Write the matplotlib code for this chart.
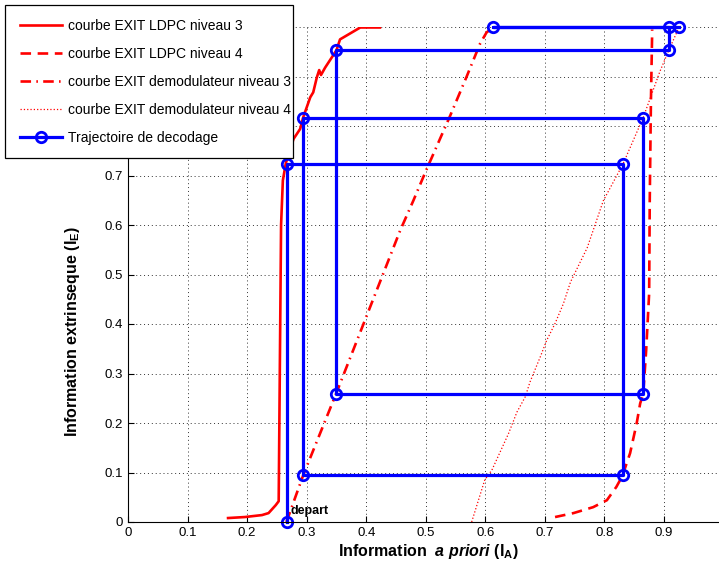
import matplotlib
matplotlib.use('Agg')
from matplotlib import pyplot as plt
from matplotlib.patches import Rectangle

plt.rcParams['font.family'] = ['Liberation Sans', 'DejaVu Sans']
plt.rcParams['mathtext.fontset'] = 'custom'
plt.rcParams['mathtext.rm'] = 'Liberation Sans:bold'
plt.rcParams['mathtext.it'] = 'Liberation Sans:italic:bold'
plt.rcParams['mathtext.bf'] = 'Liberation Sans:bold'

# courbe EXIT LDPC niveau 3 (solid)
ldpc3_x = [0.168, 0.196, 0.225, 0.236, 0.248, 0.253, 0.257, 0.260, 0.265, 0.278, 0.289, 0.294,
           0.306, 0.311, 0.317, 0.321, 0.324, 0.331, 0.350, 0.356, 0.390, 0.423]
ldpc3_y = [0.008, 0.010, 0.014, 0.018, 0.034, 0.042, 0.600, 0.690, 0.725, 0.774, 0.794, 0.817,
           0.858, 0.868, 0.898, 0.913, 0.903, 0.918, 0.953, 0.975, 0.999, 0.999]

# courbe EXIT LDPC niveau 4 (dashed)
ldpc4_x = [0.717, 0.748, 0.781, 0.804, 0.820, 0.830, 0.843, 0.854, 0.860, 0.865, 0.870, 0.875,
           0.876, 0.878, 0.880, 0.880]
ldpc4_y = [0.010, 0.018, 0.030, 0.044, 0.071, 0.093, 0.139, 0.199, 0.240, 0.258, 0.347, 0.462,
           0.649, 0.851, 0.986, 0.995]

# courbe EXIT demodulateur niveau 3 (dash-dot)
demod3_x = [0.266, 0.294, 0.349, 0.457, 0.479, 0.499, 0.541, 0.569, 0.591, 0.602, 0.613]
demod3_y = [0.000, 0.094, 0.258, 0.589, 0.649, 0.706, 0.821, 0.901, 0.966, 0.989, 0.999]

# courbe EXIT demodulateur niveau 4 (dotted)
demod4_x = [0.577, 0.599, 0.611, 0.625, 0.639, 0.653, 0.667, 0.675, 0.692, 0.703, 0.717, 0.731,
            0.743, 0.771, 0.798, 0.831, 0.865, 0.893, 0.908, 0.925]
demod4_y = [0.000, 0.085, 0.105, 0.142, 0.179, 0.222, 0.253, 0.283, 0.333, 0.367, 0.401, 0.441,
            0.485, 0.554, 0.649, 0.723, 0.817, 0.910, 0.953, 0.999]

# Trajectoire de decodage
traj_x = [0.267, 0.267, 0.831, 0.831, 0.294, 0.294, 0.865, 0.865, 0.349, 0.349, 0.908, 0.908, 0.613, 0.925]
traj_y = [0.000, 0.723, 0.723, 0.094, 0.094, 0.817, 0.817, 0.258, 0.258, 0.953, 0.953, 0.999, 0.999, 0.999]

xticks = [0, 0.1, 0.2, 0.3, 0.4, 0.5, 0.6, 0.7, 0.8, 0.9]
xtick_labels = ['0', '0.1', '0.2', '0.3', '0.4', '0.5', '0.6', '0.7', '0.8', '0.9']
yticks = [0, 0.1, 0.2, 0.3, 0.4, 0.5, 0.6, 0.7, 0.8, 0.9, 1]
# 0.8, 0.9 and 1 sit behind the legend box
ytick_labels = ['0', '0.1', '0.2', '0.3', '0.4', '0.5', '0.6', '0.7', '', '', '']

fig = plt.figure(figsize=(7.19, 5.65), dpi=100)
ax = fig.add_axes([128/719, 43/565, 595.6/719, 495/565])

ax.plot(ldpc3_x, ldpc3_y, '-', color='red', lw=1.9, label='courbe EXIT LDPC niveau 3')
ax.plot(ldpc4_x, ldpc4_y, '--', color='red', lw=1.9, dashes=(4, 2.5), label='courbe EXIT LDPC niveau 4')
ax.plot(demod3_x, demod3_y, '-.', color='red', lw=1.9, dashes=(4, 2, 0.6, 2), label='courbe EXIT demodulateur niveau 3')
ax.plot(demod4_x, demod4_y, ':', color='red', lw=0.9, label='courbe EXIT demodulateur niveau 4')
ax.plot(traj_x, traj_y, '-o', color='blue', lw=2.3, markersize=7.5, mfc='none', mew=2,
        label='Trajectoire de decodage', clip_on=False)

ax.text(0.273, 0.016, 'depart', fontsize=9, fontweight='bold')

ax.set_xlim(0, 1)
ax.set_ylim(0, 1)
ax.set_xticks(xticks + [1])
ax.set_xticklabels(xtick_labels + [''])
ax.set_yticks(yticks)
ax.set_yticklabels(ytick_labels)
ax.tick_params(direction='in', labelsize=9.5, length=4, width=0.8)
ax.grid(True, linestyle=(0, (1, 3)), color='#333333', lw=0.7)
ax.spines['top'].set_visible(False)
ax.spines['right'].set_visible(False)

ax.set_xlabel(r'Information  $\mathit{a\ priori}$ (I$_\mathrm{A}$)', fontsize=11.5, fontweight='bold')
ax.set_ylabel(r'Information extrinseque (I$_\mathrm{E}$)', fontsize=11.5, fontweight='bold')
ax.xaxis.set_label_coords(0.504, -0.04)
ax.yaxis.set_label_coords(-0.077, 0.384)

# legend box drawn by hand (MATLAB-style tight frame)
box = Rectangle((5/719, 1 - 158/565), 288/719, 153/565, transform=fig.transFigure,
                facecolor='white', edgecolor='black', lw=0.9, zorder=4, clip_on=False)
ax.add_patch(box)
leg = ax.legend(loc='upper left', bbox_to_anchor=(20/719, 1 - 19/565), bbox_transform=fig.transFigure,
                fontsize=10, frameon=False, handlelength=3.0, handletextpad=0.42,
                labelspacing=1.0, borderpad=0, borderaxespad=0)
leg.set_zorder(5)

fig.savefig('out.png', dpi=100)
